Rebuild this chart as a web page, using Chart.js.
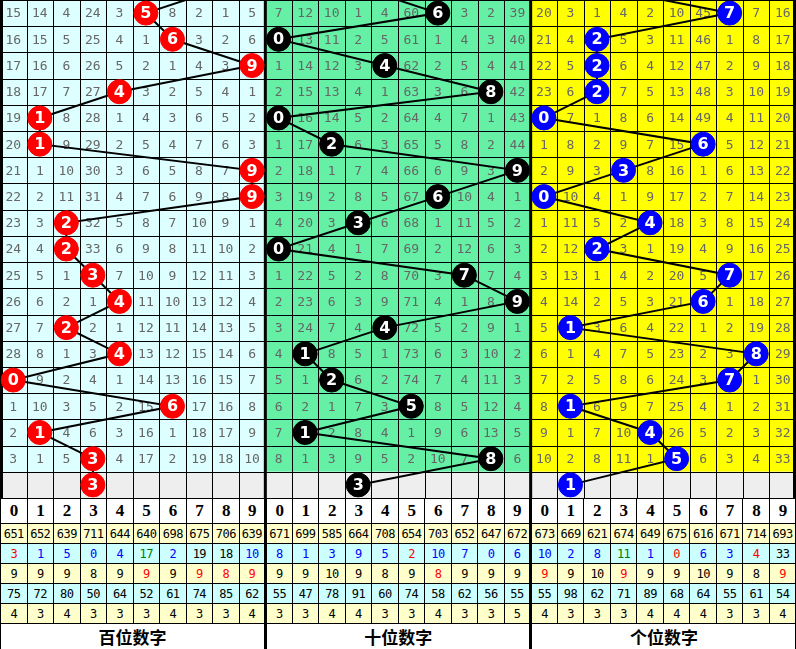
<!DOCTYPE html>
<html><head><meta charset="utf-8">
<script src="https://cdn.jsdelivr.net/npm/chart.js@4"></script>
<style>
body{margin:0;background:#fff;width:796px;height:649px;overflow:hidden}
#wrap{position:absolute;left:0;top:0;width:796px;height:498px}
table{position:absolute;left:0;top:498px;width:796px;border-collapse:collapse;table-layout:fixed}
td{border:1px solid #000;text-align:center;padding:0;font-family:"DejaVu Sans Mono",monospace;font-size:12px;height:19px;overflow:hidden;white-space:nowrap;letter-spacing:-0.5px}
tr.h td{height:24px;font-family:"Liberation Serif",serif;font-weight:bold;font-size:17px;background:#fff}
tr.y td{background:#FFFFCC}
tr.c td{background:#CCFFFF}
tr.cap td{height:22px;background:#fff;font-family:"Noto Sans CJK SC",sans-serif;font-weight:bold;font-size:17px;letter-spacing:0}
td.s{border-left:3px solid #000}
</style></head><body>
<div id="wrap"><canvas id="c" width="796" height="498"></canvas></div>
<table id="t"></table>
<script>
// ---- data ----
const digits=[0,1,2,3,4,5,6,7,8,9];
const panelNames=["百位数字","十位数字","个位数字"];
const prevHits=[8,3,2];
const hitsH=[5,6,9,4,1,1,9,9,2,2,3,4,2,4,0,6,1,3,3];
const hitsT=[6,0,4,8,0,2,9,6,3,0,7,9,4,1,2,5,1,8,3];
const hitsU=[7,2,2,2,0,6,3,0,4,2,7,6,1,8,7,1,4,5,1];
const missH=[
[15,14,4,24,3,0,8,2,1,5],[16,15,5,25,4,1,0,3,2,6],[17,16,6,26,5,2,1,4,3,0],[18,17,7,27,0,3,2,5,4,1],
[19,0,8,28,1,4,3,6,5,2],[20,0,9,29,2,5,4,7,6,3],[21,1,10,30,3,6,5,8,7,0],[22,2,11,31,4,7,6,9,8,0],
[23,3,0,32,5,8,7,10,9,1],[24,4,0,33,6,9,8,11,10,2],[25,5,1,0,7,10,9,12,11,3],[26,6,2,1,0,11,10,13,12,4],
[27,7,0,2,1,12,11,14,13,5],[28,8,1,3,0,13,12,15,14,6],[0,9,2,4,1,14,13,16,15,7],[1,10,3,5,2,15,0,17,16,8],
[2,0,4,6,3,16,1,18,17,9],[3,1,5,0,4,17,2,19,18,10]];
const missT=[
[7,12,10,1,4,60,0,3,2,39],[0,13,11,2,5,61,1,4,3,40],[1,14,12,3,0,62,2,5,4,41],[2,15,13,4,1,63,3,6,0,42],
[0,16,14,5,2,64,4,7,1,43],[1,17,0,6,3,65,5,8,2,44],[2,18,1,7,4,66,6,9,3,0],[3,19,2,8,5,67,0,10,4,1],
[4,20,3,0,6,68,1,11,5,2],[0,21,4,1,7,69,2,12,6,3],[1,22,5,2,8,70,3,0,7,4],[2,23,6,3,9,71,4,1,8,0],
[3,24,7,4,0,72,5,2,9,1],[4,0,8,5,1,73,6,3,10,2],[5,1,0,6,2,74,7,4,11,3],[6,2,1,7,3,0,8,5,12,4],
[7,0,2,8,4,1,9,6,13,5],[8,1,3,9,5,2,10,7,0,6]];
const missU=[
[20,3,1,4,2,10,45,0,7,16],[21,4,0,5,3,11,46,1,8,17],[22,5,0,6,4,12,47,2,9,18],[23,6,0,7,5,13,48,3,10,19],
[0,7,1,8,6,14,49,4,11,20],[1,8,2,9,7,15,0,5,12,21],[2,9,3,0,8,16,1,6,13,22],[0,10,4,1,9,17,2,7,14,23],
[1,11,5,2,0,18,3,8,15,24],[2,12,0,3,1,19,4,9,16,25],[3,13,1,4,2,20,5,0,17,26],[4,14,2,5,3,21,0,1,18,27],
[5,0,3,6,4,22,1,2,19,28],[6,1,4,7,5,23,2,3,0,29],[7,2,5,8,6,24,3,0,1,30],[8,0,6,9,7,25,4,1,2,31],
[9,1,7,10,0,26,5,2,3,32],[10,2,8,11,1,0,6,3,4,33]];
const statTotal=[[651,652,639,711,644,640,698,675,706,639],[671,699,585,664,708,654,703,652,647,672],[673,669,621,674,649,675,616,671,714,693]];
const statCur=[[3,1,5,0,4,17,2,19,18,10],[8,1,3,9,5,2,10,7,0,6],[10,2,8,11,1,0,6,3,4,33]];
const statCurCol=[["r","b","b","b","b","g","b","k","k","b"],["b","b","b","b","b","r","b","b","b","b"],["b","b","b","g","b","r","b","b","r","k"]];
const statMaxRow=[[9,9,9,8,9,9,9,9,8,9],[9,9,10,9,8,9,8,9,9,9],[9,9,10,9,9,9,10,9,8,9]];
const statMaxCol=[["k","k","k","k","k","r","k","r","r","r"],["k","k","k","k","k","k","r","k","k","k"],["r","k","k","r","k","k","k","k","k","r"]];
const statMaxMiss=[[75,72,80,50,64,52,61,74,85,62],[55,47,78,91,60,74,58,62,56,55],[55,98,62,71,89,68,64,55,61,54]];
const statMaxHit=[[4,3,4,3,3,3,4,3,3,4],[3,3,4,4,3,3,4,3,3,5],[4,3,3,3,4,4,4,3,3,4]];

const hits=[hitsH,hitsT,hitsU], miss=[missH,missT,missU];
const ballCol=["#FF0000","#000000","#0000FF"];
const bg=["#DDFFFF","#66F0A6","#FFFF00"];

const datasets=hits.map((h,p)=>({
  data:[{x:p*10+prevHits[p],y:-1}].concat(h.map((d,i)=>({x:p*10+d,y:i}))),
  showLine:true,borderColor:"#000",borderWidth:2,
  pointRadius:12,pointBackgroundColor:ballCol[p],pointBorderColor:ballCol[p],pointBorderWidth:1
}));

const gridPlugin={id:"grid",beforeDatasetsDraw(ch){
  const c=ch.ctx,xs=ch.scales.x,ys=ch.scales.y,a=ch.chartArea;
  c.save();
  for(let p=0;p<3;p++){
    const x0=xs.getPixelForValue(p*10-0.5),x1=xs.getPixelForValue(p*10+9.5);
    c.fillStyle=bg[p];c.fillRect(x0,a.top,x1-x0,ys.getPixelForValue(17.5)-a.top);
    c.fillStyle="#EEEEEE";c.fillRect(x0,ys.getPixelForValue(17.5),x1-x0,a.bottom-ys.getPixelForValue(17.5));
  }
  c.strokeStyle="#000";c.lineWidth=1;
  for(let k=0;k<=30;k++){const x=Math.round(xs.getPixelForValue(k-0.5))+0.5;c.beginPath();c.moveTo(x,a.top);c.lineTo(x,a.bottom);c.stroke();}
  for(let r=0;r<=19;r++){const y=Math.round(ys.getPixelForValue(r-0.5))+0.5;c.beginPath();c.moveTo(a.left,y);c.lineTo(a.right,y);c.stroke();}
  c.lineWidth=3;
  [0,10,20,30].forEach(k=>{let x=xs.getPixelForValue(k-0.5);x=Math.min(Math.max(x,a.left+1.5),a.right-1.5);c.beginPath();c.moveTo(x,a.top);c.lineTo(x,a.bottom);c.stroke();});
  c.fillStyle="#666";c.font="13px 'DejaVu Sans Mono'";c.textAlign="center";c.textBaseline="middle";
  for(let p=0;p<3;p++)miss[p].forEach((row,r)=>row.forEach((v,d)=>{
    if(hits[p][r]===d)return;
    c.fillText(String(v),xs.getPixelForValue(p*10+d),ys.getPixelForValue(r)+1);
  }));
  c.restore();
},afterDatasetsDraw(ch){
  const c=ch.ctx,xs=ch.scales.x,ys=ch.scales.y;
  c.save();c.fillStyle="#fff";c.font="bold 16px 'DejaVu Sans'";c.textAlign="center";c.textBaseline="middle";
  hits.forEach((h,p)=>h.forEach((d,i)=>c.fillText(String(d),xs.getPixelForValue(p*10+d),ys.getPixelForValue(i)+1)));
  c.restore();
}};

new Chart(document.getElementById("c"),{type:"scatter",data:{datasets},
  options:{responsive:false,animation:false,events:[],layout:{padding:0,autoPadding:false},
    plugins:{legend:{display:false},tooltip:{enabled:false}},
    scales:{x:{type:"linear",min:-0.5,max:29.5,display:false},
            y:{type:"linear",min:-0.5,max:18.5,reverse:true,display:false}}},
  plugins:[gridPlugin]});

// ---- bottom table ----
const colMap={r:"#FF0000",b:"#0000FF",g:"#008000",k:"#000"};
let html="<colgroup>"+Array(30).fill('<col style="width:26.53px">').join("")+"</colgroup>";
function row(cls,fn){let s='<tr class="'+cls+'">';for(let p=0;p<3;p++)for(let d=0;d<10;d++)s+='<td'+(d===0&&p>0?' class="s"':'')+'>'+fn(p,d)+'</td>';return s+'</tr>';}
html+=row("h",(p,d)=>digits[d]);
html+=row("y",(p,d)=>statTotal[p][d]);
html+=row("c",(p,d)=>'<span style="color:'+colMap[statCurCol[p][d]]+'">'+statCur[p][d]+'</span>');
html+=row("y",(p,d)=>'<span style="color:'+colMap[statMaxCol[p][d]]+'">'+statMaxRow[p][d]+'</span>');
html+=row("c",(p,d)=>statMaxMiss[p][d]);
html+=row("y",(p,d)=>statMaxHit[p][d]);
html+='<tr class="cap">'+panelNames.map((n,p)=>'<td colspan="10"'+(p>0?' class="s"':'')+'>'+n+'</td>').join("")+'</tr>';
document.getElementById("t").innerHTML=html;
</script></body></html>
